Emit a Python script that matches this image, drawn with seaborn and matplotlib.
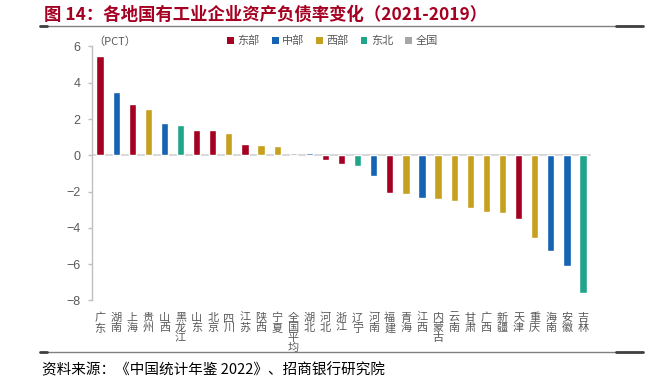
import matplotlib
matplotlib.use('Agg')
import matplotlib.pyplot as plt
import seaborn as sns
import pandas as pd
from matplotlib.patches import Patch
from matplotlib.lines import Line2D

provinces = ['广东', '湖南', '上海', '贵州', '山西', '黑龙江', '山东', '北京', '四川', '江苏',
             '陕西', '宁夏', '全国平均', '湖北', '河北', '浙江', '辽宁', '河南', '福建', '青海',
             '江西', '内蒙古', '云南', '甘肃', '广西', '新疆', '天津', '重庆', '海南', '安徽', '吉林']
values = [5.48, 3.50, 2.84, 2.53, 1.80, 1.65, 1.39, 1.39, 1.23, 0.62,
          0.55, 0.49, 0.13, 0.13, -0.24, -0.46, -0.59, -1.15, -2.07, -2.16,
          -2.34, -2.40, -2.51, -2.91, -3.11, -3.21, -3.53, -4.54, -5.29, -6.13, -7.60]
regions = ['东部', '中部', '东部', '西部', '中部', '东北', '东部', '东部', '西部', '东部',
           '西部', '西部', '全国', '中部', '东部', '东部', '东北', '中部', '东部', '西部',
           '中部', '西部', '西部', '西部', '西部', '西部', '东部', '西部', '中部', '中部', '东北']
legend_labels = ['东部', '中部', '西部', '东北', '全国']
y_ticks = [-8, -6, -4, -2, 0, 2, 4, 6]

colors = {'东部': '#A50021', '中部': '#1563B3', '西部': '#C6A01F',
          '东北': '#21A58A', '全国': '#A6A6A6'}
gray_text = '#595959'

sns.set_theme(style='white')
plt.rcParams['font.family'] = ['Noto Sans CJK SC', 'DejaVu Sans']
plt.rcParams['axes.unicode_minus'] = True

fig = plt.figure(figsize=(6.61, 3.89), dpi=100)
ax = fig.add_axes([0.1387, 0.228, 0.755, 0.6525])

df = pd.DataFrame({'province': provinces, 'value': values, 'region': regions})
sns.barplot(data=df, x='province', y='value', hue='region', hue_order=legend_labels,
            order=provinces, palette=colors, dodge=False, width=0.45, saturation=1,
            legend=False, ax=ax, zorder=3)

ax.axhline(0, color='#d9d9d9', lw=1.5, zorder=1)
ax.set_xlim(-0.52, len(provinces) - 0.52)
ax.set_ylim(-8, 6)
ax.set_yticks(y_ticks)
ax.set_yticklabels([f'{t}' if t >= 0 else f'\u2212{abs(t)}' for t in y_ticks],
                   family=['Liberation Sans', 'DejaVu Sans'])
ax.set_xticks(range(len(provinces)))
ax.set_xticklabels(['\n'.join(p) for p in provinces], fontsize=8, color=gray_text,
                   linespacing=1.0, va='top')
ax.set_xlabel('')
ax.set_ylabel('')
for s in ['top', 'right', 'bottom']:
    ax.spines[s].set_visible(False)
ax.spines['left'].set_color('#bfbfbf')
ax.spines['left'].set_linewidth(1.0)
ax.tick_params(axis='y', left=True, length=3, width=1, color='#bfbfbf',
               labelsize=9, labelcolor=gray_text, pad=5)
ax.tick_params(axis='x', bottom=False, length=0, pad=9)
ax.grid(False)

# legend
handles = [Patch(facecolor=colors[k], edgecolor='none', label=k) for k in legend_labels]
fig.legend(handles=handles, loc='center', bbox_to_anchor=(0.503, 0.895), ncol=5,
           frameon=False, fontsize=8, handlelength=0.6, handleheight=0.6,
           handletextpad=0.3, columnspacing=1.1, labelcolor=gray_text)

fig.text(93 / 661, 1 - 42 / 389, '（PCT）', fontsize=8, color=gray_text, va='center', ha='left')

# title
fig.text(44 / 661, 1 - 15 / 389, '图 14：各地国有工业企业资产负债率变化（2021-2019）',
         fontsize=12.5, fontweight='bold', color='#A50021', va='center', ha='left')

# decorative lines
for yy in [1 - 25.5 / 389, 1 - 352 / 389]:
    fig.add_artist(Line2D([40 / 661, 643 / 661], [yy, yy], transform=fig.transFigure,
                          color='#808080', lw=1.0))
    fig.add_artist(Line2D([616 / 661, 643 / 661], [yy, yy], transform=fig.transFigure,
                          color='#404040', lw=2.0))
    fig.add_artist(Line2D([40 / 661, 47 / 661], [yy, yy], transform=fig.transFigure,
                          color='#404040', lw=2.0))

# source
fig.text(42 / 661, 1 - 370 / 389, '资料来源：《中国统计年鉴 2022》、招商银行研究院',
         fontsize=10.5, color='black', va='center', ha='left')

fig.savefig('out.png', dpi=100)
